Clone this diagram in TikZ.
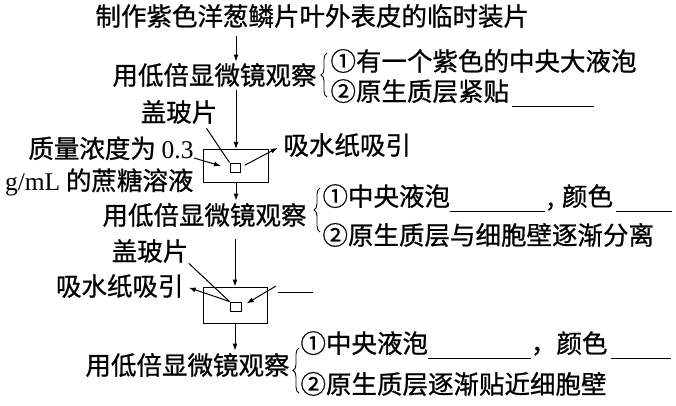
\documentclass[tikz,border=0pt]{standalone}
\usepackage{fontspec}
\setmainfont{Liberation Serif}
\newfontfamily\cjk[FakeBold=0.8]{Noto Sans CJK SC}
\usepackage{tikz}
\usetikzlibrary{decorations.pathreplacing,arrows.meta}

\newcommand{\fillin}[1]{\rule[-6pt]{#1pt}{0.8pt}}
\newcommand{\itemno}[1]{\makebox[1em]{#1}}
\tikzset{
  txt/.style={font=\cjk\fontsize{25.5}{32}\selectfont, inner sep=0pt},
  bracket/.style={decorate, decoration={brace, amplitude=6pt}, line width=0.9pt},
  slide/.style={draw, minimum width=65pt, minimum height=33pt, inner sep=0pt},
  cover/.style={draw, minimum width=10pt, minimum height=9pt, inner sep=0pt},
}

\begin{document}
\begin{tikzpicture}[x=1pt, y=-1pt, line width=1pt, >={Latex[length=7pt,width=5pt]}]
        \useasboundingbox (0,0) rectangle (676,406);

        % first step
        \node[txt, anchor=west] (make) at (95,16) {制作紫色洋葱鳞片叶外表皮的临时装片};
        \node[txt, anchor=west] (look1) at (112,75) {用低倍显微镜观察};
        \draw[bracket] (327,97) -- (327,53);
        \node[txt, anchor=west] (r1a) at (330,61) {\itemno{①}有一个紫色的中央大液泡};
        \node[txt, anchor=west] (r1b) at (330,93) {\itemno{②}原生质层紧贴\hspace{3pt}\fillin{82}};

        % first slide
        \node[slide] (slide1) at (236,166) {};
        \node[cover] (cover1) at (235,167.5) {};
        \node[txt] (glass1) at (179,112) {盖玻片};
        \node[txt, anchor=east, align=right] (sugar) at (194,166) {质量浓度为 {\rmfamily 0.3}\\{\rmfamily g/mL} 的蔗糖溶液};
        \node[txt, anchor=west] (suck1) at (283,145) {吸水纸吸引};
        \coordinate (drop1) at (221,166);

        \draw[->, shorten <=8pt, shorten >=1pt] (make.south -| slide1.north) -- (look1.north -| slide1.north);
        \draw[->, shorten <=3pt] (look1.south -| slide1.north) -- (slide1.north);
        \draw[shorten <=5pt] ([xshift=-14pt]glass1.south east) -- (cover1.north west);
        \draw[->] ([yshift=8pt]sugar.east) -- (drop1);
        \draw[->, shorten <=5pt, shorten >=6pt] (cover1.east) -- (suck1.west);

        % second step
        \node[txt, anchor=east] (look2) at (307,215) {用低倍显微镜观察};
        \draw[bracket] (320,232) -- (320,188);
        \node[txt, anchor=west] (r2a) at (322,198) {\itemno{①}中央液泡\fillin{95}\hspace{2pt},\hspace{8pt}颜色\hspace{3pt}\fillin{56}};
        \node[txt, anchor=west] (r2b) at (322,235) {\itemno{②}原生质层与细胞壁逐渐分离};
        \draw[->, shorten >=2pt] (slide1.south) -- (look2.north -| slide1.south);

        % second slide
        \node[slide, minimum width=64pt, minimum height=36pt] (slide2) at (235,305) {};
        \node[cover, minimum width=11pt] (cover2) at (235.5,306.5) {};
        \node[txt] (glass2) at (150,251) {盖玻片};
        \node[txt, anchor=east] (suck2) at (184,286) {吸水纸吸引};
        \coordinate (in2) at (276,286);

        \draw[->, shorten <=12pt] (look2.south -| slide2.north) -- (slide2.north);
        \draw (glass2.south east) -- (cover2.north west);
        \draw[->, shorten >=5pt] (cover2.north west) -- (suck2.east);
        \draw[->, shorten >=6pt] (in2) -- (cover2.east);
        \draw (278,292) -- (313,292);

        % third step
        \node[txt, anchor=east] (look3) at (290,365) {用低倍显微镜观察};
        \draw[bracket] (299,393) -- (299,348);
        \node[txt, anchor=west] (r3a) at (300,345) {\itemno{①}中央液泡\fillin{103}，颜色\hspace{3pt}\fillin{60}};
        \node[txt, anchor=west] (r3b) at (300,384) {\itemno{②}原生质层逐渐贴近细胞壁};
        \draw[->, shorten >=2pt] (slide2.south) -- (look3.north -| slide2.south);

\end{tikzpicture}
\end{document}
